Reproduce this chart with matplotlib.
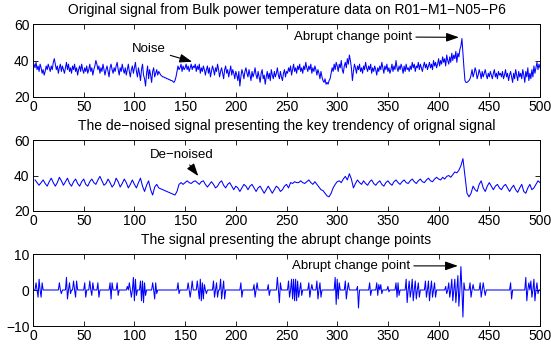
import numpy as np
import matplotlib
matplotlib.use('Agg')
import matplotlib.pyplot as plt

plt.rcParams['font.family'] = ['Liberation Sans', 'DejaVu Sans']

# ---------------- data ----------------
original = [
    38, 36, 39, 35, 37, 34, 38, 36, 33, 35,
    32, 34, 37, 35, 38, 36, 34, 37, 35, 39,
    41, 38, 35, 37, 33, 36, 38, 34, 37, 35,
    33, 36, 39, 35, 38, 34, 36, 33, 37, 35,
    38, 34, 36, 32, 35, 37, 34, 38, 35, 33,
    36, 34, 37, 33, 35, 38, 34, 36, 32, 35,
    37, 40, 38, 35, 37, 33, 36, 34, 38, 35,
    32, 35, 37, 34, 31, 36, 38, 35, 33, 36,
    34, 37, 39, 35, 32, 36, 34, 38, 35, 33,
    36, 32, 35, 38, 34, 31, 35, 37, 33, 36,
    39, 34, 31, 36, 33, 29, 35, 38, 32, 30,
    26, 33, 37, 30, 35, 32, 28, 34, 36, 31,
    33, 35, 32, 34, 33, 32, 31.5, 31, 31, 30.5,
    30.5, 30, 30, 29.5, 29.5, 29, 29, 28.5, 28, 29,
    31, 34, 37, 35, 36, 38, 34, 37, 35, 36,
    38, 35, 37, 34, 36, 38, 35, 37, 36, 38,
    34, 37, 35, 38, 33, 36, 34, 37, 35, 32,
    35, 37, 33, 36, 31, 34, 37, 35, 32, 36,
    34, 38, 35, 31, 34, 36, 33, 30, 35, 37,
    33, 35, 31, 34, 37, 32, 35, 33, 30, 34,
    32, 29, 34, 26, 31, 35, 33, 30, 34, 36,
    33, 31, 35, 32, 29, 34, 31, 33, 36, 32,
    30, 34, 31, 28, 33, 35, 30, 32, 27, 31,
    34, 30, 33, 29, 35, 32, 30, 34, 31, 33,
    36, 32, 30, 34, 31, 29, 33, 35, 31, 34,
    33, 36, 34, 37, 32, 35, 38, 34, 36, 33,
    37, 35, 38, 34, 36, 33, 37, 35, 39, 36,
    34, 37, 35, 38, 33, 36, 34, 37, 35, 32,
    35, 33, 30, 34, 31, 29, 28, 30, 27, 28,
    27, 29, 30, 33, 36, 34, 38, 35, 39, 37,
    34, 38, 36, 40, 35, 33, 37, 39, 36, 41,
    38, 43, 40, 36, 29, 34, 38, 36, 33, 37,
    35, 38, 34, 36, 33, 37, 35, 39, 36, 34,
    37, 35, 38, 33, 36, 34, 37, 35, 32, 36,
    34, 37, 35, 39, 36, 33, 37, 35, 38, 34,
    36, 33, 35, 38, 34, 37, 35, 40, 36, 34,
    37, 35, 38, 36, 33, 37, 34, 38, 35, 36,
    34, 37, 35, 39, 36, 38, 34, 37, 36, 39,
    35, 38, 36, 34, 37, 39, 36, 38, 35, 37,
    39, 36, 38, 35, 40, 37, 39, 36, 38, 41,
    37, 40, 38, 42, 39, 41, 37, 43, 40, 38,
    42, 39, 44, 40, 43, 41, 45, 39, 44, 42,
    46, 48, 52, 44, 36, 29, 28, 28, 28.5, 29,
    30, 32, 35, 31, 33, 36, 34, 30, 32, 35,
    33, 30, 34, 31, 33, 35, 32, 30, 33, 31,
    34, 32, 30, 33, 35, 31, 33, 30, 34, 32,
    33, 31, 34, 30, 32, 35, 31, 33, 29, 32,
    34, 31, 28, 33, 30, 35, 32, 29, 34, 31,
    33, 30, 35, 32, 28, 34, 31, 36, 29, 33,
    30, 35, 31, 37, 33, 36, 39, 35, 38, 36,
]

denoised = [
    37.5, 36, 34.5, 36, 37.5, 35.5, 34, 36.5, 38.5, 36,
    34, 36, 39, 37, 34.5, 36.5, 38.5, 35.5, 34, 36.5,
    38, 35.5, 34, 36.5, 38, 35, 34, 36.5, 38, 36,
    35, 37.5, 39.5, 37, 34.5, 35.5, 38, 36, 33.5, 35,
    38.5, 36.5, 33.5, 35.5, 38, 36, 33, 35, 37.5, 35,
    33, 36, 38.5, 34, 31, 34.5, 37, 32, 29, 33.5,
    35, 33, 32.5, 32, 31.5, 31, 30.5, 30, 29.5, 29,
    31, 35, 36, 35, 36, 37, 36, 35.5, 36.5, 37,
    36, 35, 36.5, 37, 35, 33.5, 35, 36.5, 35, 33,
    34, 36, 37, 34.5, 33, 35, 36, 34, 32, 34,
    33, 31, 33, 35, 34, 32, 34, 35, 33, 31,
    33, 34, 32, 30, 32, 34, 32, 30, 32, 34,
    33, 31, 32, 34, 35, 33, 36, 35.5, 36.5, 36,
    36, 37, 36, 35.5, 36.5, 37.5, 36, 35, 36.5, 35,
    33.5, 32, 31.5, 30, 28.5, 28, 30, 33, 35, 36.5,
    37, 36, 38, 39.5, 37.5, 41, 38, 33, 35.5, 37.5,
    36, 35, 37, 35.5, 34.5, 36.5, 37.5, 35.5, 34.5, 36,
    37, 35, 34, 36, 37, 35.5, 34.5, 36.5, 37.5, 36,
    35, 36.5, 37.5, 36, 35.5, 37, 38, 36.5, 35.5, 37,
    38, 36.5, 36, 37.5, 38.5, 37, 36.5, 38, 39, 38,
    37.5, 39, 38, 39.5, 40, 39, 40.5, 42, 41.5, 43,
    45.5, 49.5, 40, 30, 28, 30, 34, 32, 31, 35,
    37, 33, 31, 34, 36, 34, 32, 34, 35, 33,
    32, 34, 35, 33, 31, 33, 34.5, 32, 30.5, 33,
    35, 31, 30, 33, 35, 32, 33, 35, 37, 36,
]
denoised_t = list(range(2, 2 * len(denoised) + 2, 2))

spike_t = [3, 5, 6, 8, 9, 26, 28, 33, 34, 36, 37, 40, 42, 43, 51, 52,
           56, 58, 59, 64, 65, 76, 77, 78, 83, 84, 93, 95, 97, 99, 100,
           101, 102, 106, 107, 108, 109, 110, 111, 118, 120, 121, 122,
           143, 144, 153, 155, 157, 162, 164, 165, 166, 167, 168, 169, 171,
           178, 179, 181, 182, 185, 186, 188, 189, 205, 206, 218, 219, 221,
           232, 233, 241, 243, 244, 252, 253, 255, 256, 257, 258, 259, 260,
           261, 262, 264, 265, 272, 273, 275, 280, 281, 283, 284, 298, 299,
           300, 301, 302, 308, 309, 311, 320, 321, 332, 333, 339, 340, 341,
           343, 344, 350, 351, 358, 359, 360, 361, 368, 369, 371, 372, 374,
           375, 377, 378, 380, 381, 387, 388, 390, 391, 393, 394, 396, 397,
           407, 408, 410, 411, 413, 414, 416, 417, 419, 420, 422, 424, 425,
           431, 432, 434, 441, 442, 444, 446, 471, 472, 486, 487, 489, 491,
           492, 494, 495, 497, 498]
spike_v = [2, -2, 3, -2, 2, 2, -1, 3.5, -2.5, 2, -1, 2.5, -2, 2.5, 2, -2,
           2.5, -1.5, 2, 2, -2, 2, -2.5, 2, 2, -1.5, 1, 2, -2, 3.5, -3,
           3, -1.5, 2.5, -3, 2.5, -3.5, 2, -1.5, 2, -2.5, 2, -1,
           2, -1, 2, -2, 2.5, 2.5, -2.5, 3, -3, 2, -2.5, 1.5, -1,
           2.5, -2, 2, -2, 3, -2.5, 2.5, -2.5, 2, -2, 1.5, -2, 2,
           1.5, -1.5, 3.5, -3.5, 2, 2.5, -2, 3, -2.5, 3, -3, 3, -3,
           2.5, -2, 2, -1.5, 2, -2, 1.5, 2.5, -2.5, 2, -2, 3.5, -4,
           3, -2.5, 2, 2.5, -2.5, 2, 1, -5, 2, -1.5, 2, -1.5, 1.5,
           1.5, -1, 1, -0.5, 2, -2, 2, -1.5, 3, -3.5, 2.5, -2, 3,
           -3, 2.5, -2.5, 2, -2, 2.5, -2, 2.5, -3, 2.5, -2, 2, -2,
           1, -1, 2, -2, 3, -3, 3, -3.5, 4, -4.5, 6.5, -7.5, 2,
           2, -2, 1.5, 2, -2, 2, -1.5, 2, -2.5, 3.5, -3, 2, 2.5,
           -2, 3, -3, 2, -1]

titles = [
    'Original signal from Bulk power temperature data on R01\u2212M1\u2212N05\u2212P6',
    'The de\u2212noised signal presenting the key trendency of orignal signal',
    'The signal presenting the abrupt change points',
]
y_ticks = [[20, 40, 60], [20, 40, 60], [-10, 0, 10]]
y_lims = [(20, 60), (20, 60), (-10, 10)]
x_ticks = [0, 50, 100, 150, 200, 250, 300, 350, 400, 450, 500]

# ---------------- build series ----------------
t_orig = np.arange(1, len(original) + 1)
change = np.zeros(len(original))
for t, v in zip(spike_t, spike_v):
    change[t - 1] = v

# ---------------- figure ----------------
fig = plt.figure(figsize=(5.51, 3.53), dpi=100)
W, H = 551, 353
boxes = [(24, 97), (140, 211), (254, 326)]
axes = []
for top, bot in boxes:
    ax = fig.add_axes([33 / W, 1 - bot / H, 507 / W, (bot - top) / H])
    axes.append(ax)

series = [(t_orig, original), (denoised_t, denoised), (t_orig, change)]
for i, ax in enumerate(axes):
    xs, ys = series[i]
    ax.plot(xs, ys, color='#0000ff', lw=0.75)
    ax.set_xlim(0, 500)
    ax.set_ylim(*y_lims[i])
    ax.set_xticks(x_ticks)
    ax.set_yticks(y_ticks[i])
    ax.tick_params(direction='in', top=True, right=True, length=3.5,
                   width=0.6, labelsize=10, pad=2.5)
    for sp in ax.spines.values():
        sp.set_linewidth(0.7)
    ax.set_title(titles[i], fontsize=10, pad=7)

arrow = dict(arrowstyle='-|>,head_length=0.8,head_width=0.28', color='k',
             lw=0.8, shrinkA=1, shrinkB=0)
axes[0].annotate('Noise', xy=(157, 39.3), xytext=(98, 46.2), fontsize=9.5,
                 va='center', ha='left', arrowprops=arrow)
axes[0].annotate('Abrupt change point', xy=(420, 52.7), xytext=(257, 53),
                 fontsize=9.5, va='center', ha='left', arrowprops=arrow)
axes[1].annotate('De\u2212noised', xy=(163, 39.7), xytext=(115.5, 51.5),
                 fontsize=9.5, va='center', ha='left', arrowprops=arrow)
axes[2].annotate('Abrupt change point', xy=(419, 6.7), xytext=(255, 6.7),
                 fontsize=9.5, va='center', ha='left', arrowprops=arrow)

fig.savefig('out.png', dpi=100)
